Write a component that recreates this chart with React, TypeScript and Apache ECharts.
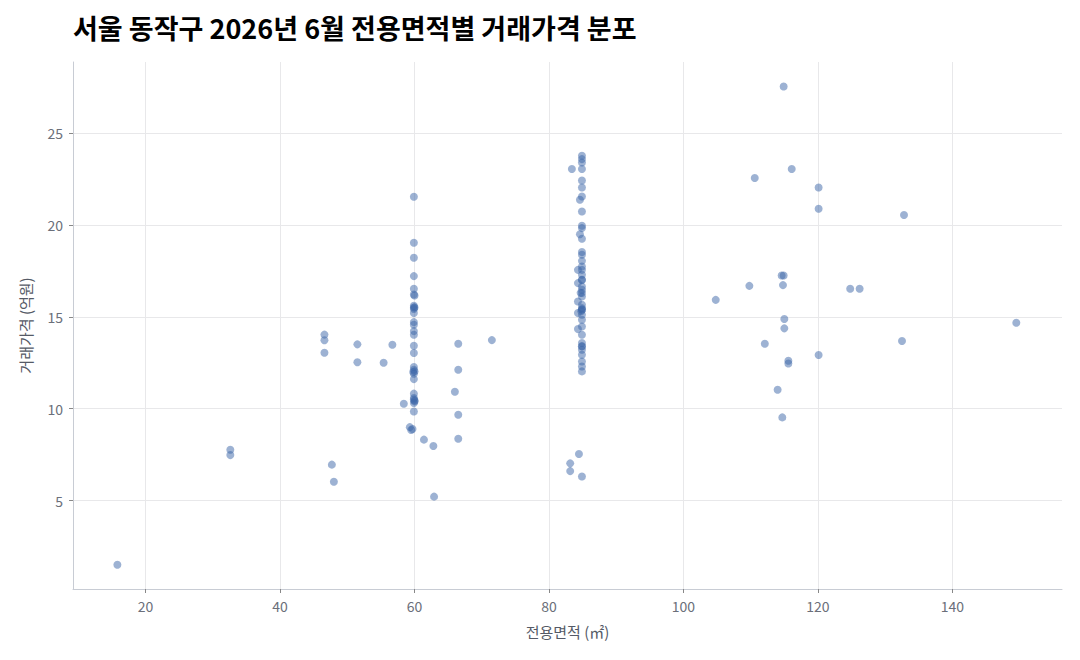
import React, { useEffect, useRef } from 'react';
import * as echarts from 'echarts';

// 전용면적 (㎡)
const areaValues = [
  15.8, 32.6, 32.6, 47.7, 48.0, 46.6, 46.6, 46.6, 51.5, 51.5, 55.4, 56.7,
  58.4, 59.3, 59.5, 59.7, 61.4, 62.8, 62.9, 66.5, 66.5, 66.0, 66.5, 66.5, 71.5,
  // 60㎡ 부근
  59.9, 59.9, 59.9, 59.9, 59.9, 59.9, 60.0, 59.9, 60.0, 59.9, 59.9, 59.9, 59.9,
  59.9, 59.9, 59.9, 59.9, 59.9, 59.9, 60.0, 59.9, 59.9, 59.9, 59.9, 60.0, 59.9,
  59.9, 59.9, 59.8, 59.9, 60.0,
  // 85㎡ 부근
  84.9, 84.9, 84.9, 84.9, 84.9, 84.9, 84.9, 84.6, 84.9, 84.9, 84.9, 84.6, 84.9,
  84.9, 84.9, 84.9, 84.9, 84.9, 84.3, 84.9, 84.9, 84.3, 84.9, 84.9, 84.9, 84.9,
  84.3, 84.9, 84.9, 84.9, 84.3, 84.9, 84.9, 84.9, 84.3, 84.9, 84.9, 84.9, 84.9,
  84.9, 84.9, 84.9, 84.9, 84.9, 84.8, 84.9, 84.7, 84.9,
  83.4, 84.45, 83.15, 83.15, 84.9,
  // 대형
  114.9, 110.6, 116.1, 120.1, 120.1, 132.8, 114.6, 114.9, 109.8, 114.8, 104.8,
  124.8, 126.2, 115.0, 115.0, 112.1, 132.5, 120.1, 115.6, 115.6, 114.0, 114.7,
  149.5,
];

// 거래가격 (억원)
const priceValues = [
  1.52, 7.77, 7.48, 6.96, 6.03, 14.03, 13.72, 13.04, 13.5, 12.53, 12.5, 13.48,
  10.27, 9.0, 8.84, 8.9, 8.32, 7.97, 5.22, 13.53, 12.12, 10.92, 9.67, 8.37, 13.73,
  // 60㎡ 부근
  21.52, 19.02, 18.21, 17.21, 16.52, 16.21, 16.16, 15.6, 15.51, 15.42, 15.2,
  14.71, 14.57, 14.22, 14.02, 13.42, 13.03, 12.27, 12.12, 12.03, 11.9, 11.61,
  10.82, 10.58, 10.45, 10.31, 9.85, 15.5, 12.0, 10.5, 10.4,
  // 85㎡ 부근
  23.75, 23.57, 23.39, 23.03, 22.41, 22.03, 21.54, 21.36, 20.72, 19.95, 19.82,
  19.49, 19.24, 18.52, 18.37, 18.04, 17.73, 17.55, 17.55, 17.28, 17.01, 16.83,
  16.65, 16.47, 16.29, 16.1, 15.83, 15.65, 15.47, 15.38, 15.2, 15.11, 14.84,
  14.47, 14.33, 14.02, 13.57, 13.39, 13.21, 12.93, 12.57, 12.3, 12.03, 15.4,
  15.3, 17.0, 16.3, 13.4,
  23.03, 7.54, 7.03, 6.61, 6.32,
  // 대형
  27.52, 22.54, 23.03, 22.03, 20.87, 20.53, 17.24, 17.24, 16.68, 16.72, 15.92,
  16.52, 16.52, 14.88, 14.37, 13.53, 13.68, 12.92, 12.61, 12.46, 11.03, 9.53,
  14.67,
];

const FONT = '"Noto Sans CJK KR", "Noto Sans", sans-serif';

const App = () => {
  const chartRef = useRef(null);

  useEffect(() => {
    const chart = echarts.init(chartRef.current, null, { renderer: 'svg' });
    const points = areaValues.map((a, i) => [a, priceValues[i]]);

    chart.setOption({
      animation: false,
      textStyle: { fontFamily: FONT },
      title: {
        text: '서울 동작구 2026년 6월 전용면적별 거래가격 분포',
        left: 60,
        top: 1,
        textStyle: { fontFamily: FONT, fontSize: 27, fontWeight: 'bold', color: '#000' },
      },
      grid: { left: 65, right: 10, top: 54, bottom: 63, containLabel: false },
      xAxis: {
        type: 'value',
        min: 9.2,
        max: 156.3,
        splitNumber: 7,
        name: '전용면적 (㎡)',
        nameLocation: 'middle',
        nameGap: 35,
        nameTextStyle: { fontSize: 15, color: '#555a66' },
        axisLine: { show: true, lineStyle: { color: '#c8ccd4' } },
        axisTick: { show: true, length: 4, lineStyle: { color: '#888' } },
        axisLabel: { color: '#6b6f7a', fontSize: 14, margin: 10, showMinLabel: false, showMaxLabel: false },
        splitLine: { show: true, showMinLine: false, showMaxLine: false, lineStyle: { color: '#e8e8ea' } },
      },
      yAxis: {
        type: 'value',
        min: 0.2,
        max: 28.85,
        splitNumber: 5,
        name: '거래가격 (억원)',
        nameLocation: 'middle',
        nameGap: 40,
        nameTextStyle: { fontSize: 15, color: '#555a66' },
        axisLine: { show: true, lineStyle: { color: '#c8ccd4' } },
        axisTick: { show: true, length: 4, lineStyle: { color: '#888' } },
        axisLabel: { color: '#6b6f7a', fontSize: 14, margin: 10, showMinLabel: false, showMaxLabel: false },
        splitLine: { show: true, showMinLine: false, showMaxLine: false, lineStyle: { color: '#e8e8ea' } },
      },
      series: [
        {
          type: 'scatter',
          data: points,
          symbolSize: 8,
          itemStyle: { color: '#3b65a8', opacity: 0.5 },
        },
      ],
    });

    return () => {
      chart.dispose();
    };
  }, []);

  return <div ref={chartRef} style={{ width: '1064px', height: '644px' }} />;
};

export default App;
